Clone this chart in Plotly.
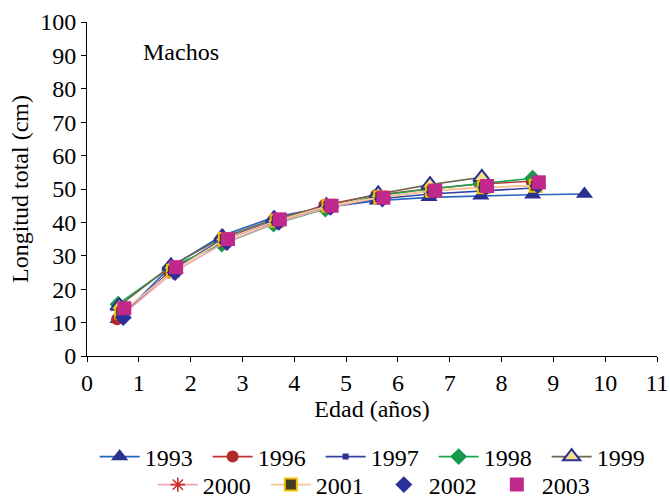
import plotly.graph_objects as go

# Mean total length at age for males, by sampling year
years = ["1993", "1996", "1997", "1998", "1999", "2000", "2001", "2002", "2003"]

age_1993 = [0.6, 1.6, 2.6, 3.6, 4.6, 5.6, 6.6, 7.6, 8.6, 9.6]
len_1993 = [11.0, 26.5, 36.0, 41.5, 44.5, 46.5, 47.5, 48.0, 48.3, 48.5]

age_1996 = [0.58, 1.58, 2.58, 3.58, 4.58, 5.58, 6.58, 7.58, 8.58]
len_1996 = [11.0, 25.0, 34.5, 40.0, 45.2, 48.2, 50.0, 51.5, 52.3]

age_1997 = [0.62, 1.62, 2.62, 3.62, 4.62, 5.62, 6.62, 7.62, 8.62]
len_1997 = [11.5, 25.5, 35.0, 40.5, 44.5, 47.0, 48.5, 49.5, 50.3]

age_1998 = [0.6, 1.6, 2.6, 3.6, 4.6, 5.6, 6.6, 7.6, 8.6]
len_1998 = [15.5, 26.5, 33.5, 39.5, 44.0, 48.0, 50.0, 51.7, 53.2]

age_1999 = [0.62, 1.62, 2.62, 3.62, 4.62, 5.62, 6.62, 7.62]
len_1999 = [15.0, 27.0, 35.5, 41.0, 45.0, 48.5, 51.3, 53.5]

age_2000 = [0.66, 1.66, 2.66, 3.66, 4.66, 5.66, 6.66, 7.66, 8.66]
len_2000 = [12.0, 25.0, 34.0, 40.0, 44.5, 47.5, 49.5, 50.5, 51.0]

age_2001 = [0.66, 1.66, 2.66, 3.66, 4.66, 5.66, 6.66, 7.66, 8.66]
len_2001 = [13.0, 25.5, 35.0, 40.5, 45.0, 47.5, 49.5, 50.5, 51.0]

age_2002 = [0.7, 1.7, 2.7, 3.7, 4.7, 5.7, 6.7, 7.7, 8.7]
len_2002 = [11.5, 25.0, 34.0, 40.0, 44.5, 47.0, 49.0, 50.5, 51.0]

age_2003 = [0.72, 1.72, 2.72, 3.72, 4.72, 5.72, 6.72, 7.72, 8.72]
len_2003 = [14.3, 26.6, 35.0, 40.9, 45.0, 47.4, 49.5, 50.9, 52.0]

x_ticks = list(range(0, 12))
y_ticks = list(range(0, 101, 10))

FONT = "Liberation Serif"
NAVY = "#2b2f8f"

series = [
    # (name, ages, lengths, mode, line colour, marker dict, legend)
    ("1993", age_1993, len_1993, "lines+markers", "#2563c0",
     dict(symbol="triangle-up", size=15, color=NAVY), "legend"),
    ("1996", age_1996, len_1996, "lines+markers", "#c23434",
     dict(symbol="circle", size=12, color="#b02a2a"), "legend"),
    ("1997", age_1997, len_1997, "lines+markers", "#3442a4",
     dict(symbol="square", size=6, color=NAVY), "legend"),
    ("1998", age_1998, len_1998, "lines+markers", "#1fa552",
     dict(symbol="diamond", size=13, color="#17984a"), "legend"),
    ("1999", age_1999, len_1999, "lines+markers", "#6e6650",
     dict(symbol="triangle-up", size=15, color="#f6e08c",
          line=dict(color=NAVY, width=2)), "legend"),
    ("2000", age_2000, len_2000, "lines+markers", "#f2a6b8",
     dict(symbol="asterisk-open", size=12, color="#d03030",
          line=dict(color="#d03030", width=1.6)), "legend2"),
    ("2001", age_2001, len_2001, "lines+markers", "#f7c892",
     dict(symbol="square", size=12, color="#403c20",
          line=dict(color="#f0c000", width=2)), "legend2"),
    ("2002", age_2002, len_2002, "markers", None,
     dict(symbol="diamond", size=13, color="#2b2f9a"), "legend2"),
    ("2003", age_2003, len_2003, "markers", None,
     dict(symbol="square", size=14, color="#c0288c"), "legend2"),
]

fig = go.Figure()
for name, xs, ys, mode, lc, mk, lg in series:
    kw = dict(x=xs, y=ys, name=name, mode=mode, marker=mk, legend=lg)
    if lc:
        kw["line"] = dict(color=lc, width=1.6)
    fig.add_trace(go.Scatter(**kw))

axis_common = dict(
    showgrid=False, zeroline=False, showline=True, linecolor="black",
    linewidth=1, ticks="outside", ticklen=5, tickcolor="black",
    tickfont=dict(family=FONT, size=24, color="black"),
)

legend_common = dict(
    orientation="h", xanchor="center", yref="container",
    yanchor="middle", font=dict(family=FONT, size=24, color="black"),
    itemwidth=40, entrywidth=58, entrywidthmode="pixels",
    bgcolor="rgba(0,0,0,0)",
)

fig.update_layout(
    width=670, height=500,
    margin=dict(l=87, r=13, t=22, b=144, autoexpand=False),
    paper_bgcolor="white", plot_bgcolor="white",
    font=dict(family=FONT, color="black"),
    xaxis=dict(range=[0, 11], tickvals=x_ticks,
               title=dict(text="Edad (años)", font=dict(family=FONT, size=24),
                          standoff=2),
               **axis_common),
    yaxis=dict(range=[0, 100], tickvals=y_ticks,
               title=dict(text="Longitud total (cm)", font=dict(family=FONT, size=24),
                          standoff=4),
               **axis_common),
    legend=dict(x=0.509, y=1 - 457 / 500, **legend_common),
    legend2=dict(x=0.512, y=1 - 485 / 500, **legend_common),
    annotations=[dict(text="Machos", x=1.05, y=91, xref="x", yref="y",
                      xanchor="left", yanchor="middle", showarrow=False,
                      font=dict(family=FONT, size=24, color="black"))],
    showlegend=True,
)

fig.write_html("out.html")
